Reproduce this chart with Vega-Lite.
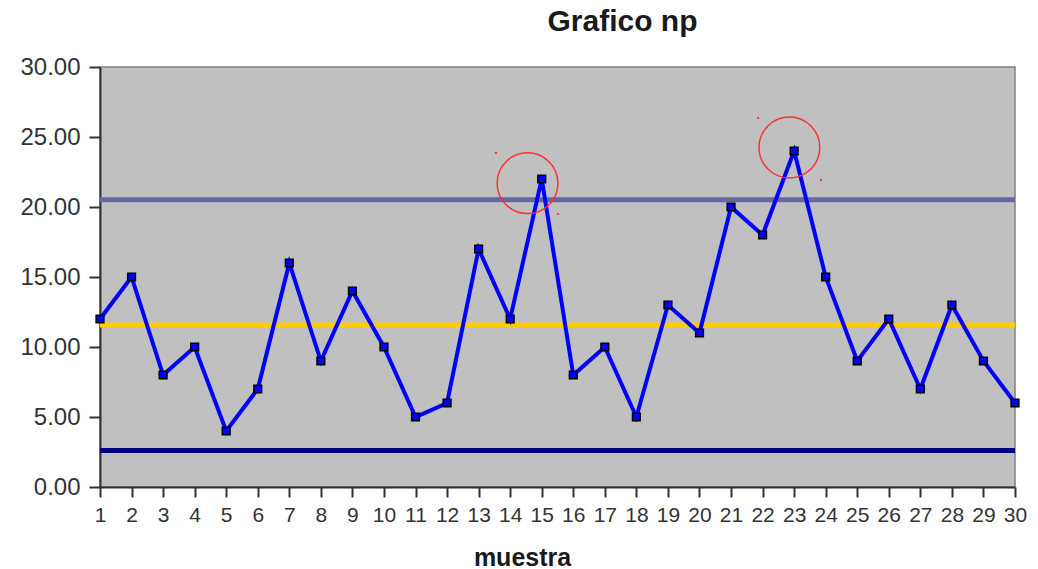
{
  "$schema": "https://vega.github.io/schema/vega-lite/v6.json",
  "autosize": "none",
  "width": 915,
  "height": 420,
  "padding": {"left": 100, "top": 67, "right": 23, "bottom": 82},
  "background": "white",
  "title": {"text": "Grafico np", "font": "Liberation Sans", "fontSize": 30, "fontWeight": "bold", "color": "#1a1a1a", "anchor": "middle", "dx": 65, "offset": 18},
  "config": {
    "view": {"fill": "#c0c0c0", "stroke": "#808080", "strokeWidth": 1.5},
    "axis": {"grid": false, "labelFont": "Liberation Sans", "titleFont": "Liberation Sans", "domainColor": "#333333", "tickColor": "#333333", "labelColor": "#333333", "domainWidth": 2, "tickWidth": 2, "tickSize": 10}
  },
  "datasets": {
    "puntos": [
      {"muestra": 1, "np": 12}, {"muestra": 2, "np": 15}, {"muestra": 3, "np": 8}, {"muestra": 4, "np": 10},
      {"muestra": 5, "np": 4}, {"muestra": 6, "np": 7}, {"muestra": 7, "np": 16}, {"muestra": 8, "np": 9},
      {"muestra": 9, "np": 14}, {"muestra": 10, "np": 10}, {"muestra": 11, "np": 5}, {"muestra": 12, "np": 6},
      {"muestra": 13, "np": 17}, {"muestra": 14, "np": 12}, {"muestra": 15, "np": 22}, {"muestra": 16, "np": 8},
      {"muestra": 17, "np": 10}, {"muestra": 18, "np": 5}, {"muestra": 19, "np": 13}, {"muestra": 20, "np": 11},
      {"muestra": 21, "np": 20}, {"muestra": 22, "np": 18}, {"muestra": 23, "np": 24}, {"muestra": 24, "np": 15},
      {"muestra": 25, "np": 9}, {"muestra": 26, "np": 12}, {"muestra": 27, "np": 7}, {"muestra": 28, "np": 13},
      {"muestra": 29, "np": 9}, {"muestra": 30, "np": 6}
    ],
    "limites": [
      {"nombre": "LSC", "np": 20.52},
      {"nombre": "LC", "np": 11.57},
      {"nombre": "LIC", "np": 2.61}
    ],
    "circulos": [
      {"muestra": 14.55, "np": 21.7},
      {"muestra": 22.85, "np": 24.25}
    ],
    "marcas": [
      {"muestra": 13.55, "np": 23.86},
      {"muestra": 15.52, "np": 19.5},
      {"muestra": 21.86, "np": 26.36},
      {"muestra": 23.85, "np": 21.93}
    ]
  },
  "encoding": {
    "x": {"field": "muestra", "type": "quantitative", "scale": {"domain": [1, 30], "nice": false}, "axis": {"values": [1,2,3,4,5,6,7,8,9,10,11,12,13,14,15,16,17,18,19,20,21,22,23,24,25,26,27,28,29,30], "tickCount": 30, "labelOverlap": false, "labelFlush": false, "labelFontSize": 21, "labelPadding": 7, "title": "muestra", "titleFontSize": 25, "titleFontWeight": "bold", "titleColor": "#1a1a1a", "titlePadding": 20, "titleX": 422}},
    "y": {"field": "np", "type": "quantitative", "scale": {"domain": [0, 30], "nice": false}, "axis": {"values": [0, 5, 10, 15, 20, 25, 30], "format": ".2f", "labelFontSize": 24, "labelPadding": 9, "tickSize": 11, "title": null}}
  },
  "layer": [
    {
      "data": {"name": "limites"},
      "mark": {"type": "rule", "strokeWidth": 5},
      "encoding": {
        "x": {"value": 0},
        "x2": {"value": 915},
        "color": {"field": "nombre", "type": "nominal", "scale": {"domain": ["LSC", "LC", "LIC"], "range": ["#6868a0", "#ffcc00", "#000080"]}, "legend": null}
      }
    },
    {
      "data": {"name": "puntos"},
      "mark": {"type": "line", "color": "#0000ff", "strokeWidth": 4}
    },
    {
      "data": {"name": "puntos"},
      "mark": {"type": "point", "shape": "square", "filled": true, "fill": "#0000ff", "stroke": "#000000", "strokeWidth": 1.5, "size": 60, "opacity": 1}
    },
    {
      "data": {"name": "circulos"},
      "mark": {"type": "point", "shape": "circle", "filled": false, "stroke": "#ff3030", "strokeWidth": 1.5, "size": 3700, "opacity": 1}
    },
    {
      "data": {"name": "marcas"},
      "mark": {"type": "point", "shape": "circle", "filled": true, "fill": "#ff3030", "strokeWidth": 0, "size": 5, "opacity": 1}
    }
  ]
}
